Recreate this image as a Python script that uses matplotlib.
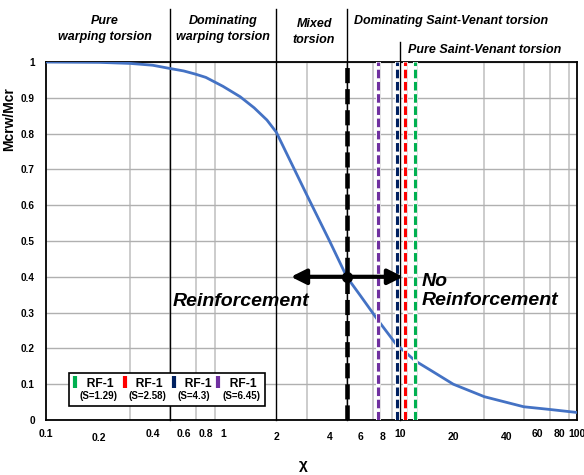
import matplotlib
matplotlib.use('Agg')
import matplotlib.pyplot as plt
from matplotlib.lines import Line2D
from matplotlib.ticker import NullFormatter

plt.rcParams['font.family'] = ['Liberation Sans', 'DejaVu Sans']

# Mcrw/Mcr against chi
chi = [0.1, 0.2, 0.3, 0.4, 0.5, 0.6, 0.7, 0.8, 1.0, 1.25, 1.5, 1.77, 2.0, 3.0,
       4.0, 5.0, 6.0, 7.5, 9.6, 10.7, 12.2, 15.0, 20.0, 30.0, 50.0, 70.0, 100.0]
ratio = [1.0, 0.999, 0.996, 0.991, 0.982, 0.975, 0.966, 0.957, 0.932, 0.903,
         0.872, 0.838, 0.804, 0.625, 0.50, 0.40, 0.346, 0.279, 0.209, 0.19,
         0.165, 0.138, 0.10, 0.065, 0.037, 0.0295, 0.021]

# torsion regime boundaries (thin black lines) and how far they run above the plot
boundary_chi = [0.5, 2.0, 5.0, 10.0]
boundary_top = [1.148, 1.148, 1.148, 1.056]

# reinforcement limit and the RF-1 cases
limit_chi = 5.0
limit_ratio = 0.4
arrow_span = (2.42, 10.4)
rf_names = ['RF-1', 'RF-1', 'RF-1', 'RF-1']
rf_s = ['1.29', '2.58', '4.3', '6.45']
rf_chi = [12.2, 10.7, 9.6, 7.5]
rf_colors = ['#00B050', '#FF0000', '#002060', '#7030A0']

xtick_vals = [0.1, 0.2, 0.4, 0.6, 0.8, 1, 2, 4, 6, 8, 10, 20, 40, 60, 80, 100]
xtick_labels = ['0.1', '0.2', '0.4', '0.6', '0.8', '1', '2', '4', '6', '8',
                '10', '20', '40', '60', '80', '100']
xtick_drop = [0, 3, 0, 0, 0, 0, 2, 2.5, 2.5, 2.5, 0, 2, 2, 0, 0, 0]
ytick_vals = [0, 0.1, 0.2, 0.3, 0.4, 0.5, 0.6, 0.7, 0.8, 0.9, 1.0]
ytick_labels = ['0', '0.1', '0.2', '0.3', '0.4', '0.5', '0.6', '0.7', '0.8', '0.9', '1']

fig = plt.figure(figsize=(5.84, 4.75), dpi=100)
ax = fig.add_axes([46 / 584, 1 - 420 / 475, 531 / 584, 358 / 475])
ax.set_xscale('log')
ax.set_xlim(0.1, 100)
ax.set_ylim(0, 1)

minor = [k * 10.0 ** e for e in (-1, 0, 1) for k in range(1, 10)] + [100]
ax.set_xticks(minor, minor=True)
ax.xaxis.set_minor_formatter(NullFormatter())
ax.set_xticks(xtick_vals, labels=xtick_labels)
ax.set_yticks(ytick_vals, labels=ytick_labels)
ax.grid(axis='x', which='minor', color='#c8c8c8', lw=1.3)
ax.grid(axis='y', which='major', color='#b0b0b0', lw=1.0)
ax.set_axisbelow(True)
ax.tick_params(axis='x', which='both', length=0, pad=6.5)
ax.tick_params(axis='y', length=0, pad=8)
for tick, dp in zip(ax.xaxis.get_major_ticks(), xtick_drop):
    tick.set_pad(6.5 + dp)
for lab in ax.get_xticklabels():
    lab.set_fontweight('bold')
    lab.set_fontsize(7.5)
for lab in ax.get_yticklabels():
    lab.set_fontweight('bold')
    lab.set_fontsize(7.2)
for sp in ax.spines.values():
    sp.set_linewidth(1.3)
    sp.set_color('black')

# regime boundaries
for xb, top in zip(boundary_chi, boundary_top):
    ax.plot([xb, xb], [0, top], color='black', lw=1, clip_on=False, zorder=3)

ax.plot(chi, ratio, color='#4472C4', lw=2, zorder=4)

# RF-1 cases
handles = []
labels = []
for name, s, xc, col in zip(rf_names, rf_s, rf_chi, rf_colors):
    ax.axvline(xc, color='#e4e4e4', lw=3.6, zorder=4.5)
    ax.axvline(xc, color='white', lw=2.8, zorder=4.6)
    ax.axvline(xc, color=col, lw=2.2, dashes=(2.8, 1.2), zorder=4.7)
    handles += [Line2D([], [], color=col, marker='|', ls='none', ms=8, mew=3),
                Line2D([], [], ls='none')]
    labels += ['  ' + name, '(S=' + s + ')']

ax.axvline(limit_chi, color='black', lw=3.3, dashes=(3.3, 1.3), zorder=5)
ax.annotate('', xy=(arrow_span[1], limit_ratio), xytext=(arrow_span[0], limit_ratio),
            arrowprops=dict(arrowstyle='<|-|>,head_length=0.6,head_width=0.3',
                            color='black', lw=3, mutation_scale=15,
                            shrinkA=0, shrinkB=0), zorder=6)
ax.plot([limit_chi], [limit_ratio], 'o', color='black', ms=7, zorder=7)

bi = dict(weight='bold', style='italic')
ax.text(0.522, 0.33, 'Reinforcement', fontsize=14, va='center', **bi)
ax.text(13.3, 0.36, 'No\nReinforcement', fontsize=14, va='center', linespacing=1.2, **bi)

ax.text(0.215, 1.092, 'Pure\nwarping torsion', ha='center', va='center', fontsize=9, linespacing=1.45, **bi)
ax.text(1.0, 1.092, 'Dominating\nwarping torsion', ha='center', va='center', fontsize=9, linespacing=1.45, **bi)
ax.text(3.27, 1.085, 'Mixed\ntorsion', ha='center', va='center', fontsize=9, linespacing=1.45, **bi)
ax.text(19.4, 1.106, 'Dominating Saint-Venant torsion', ha='center', va='baseline', fontsize=9, **bi)
ax.text(30.0, 1.026, 'Pure Saint-Venant torsion', ha='center', va='baseline', fontsize=9, **bi)

leg = ax.legend(handles, labels, ncol=4, loc='lower left', bbox_to_anchor=(0.043, 0.039),
                borderaxespad=0, prop=dict(weight='bold', size=8.7), handlelength=0.3,
                handletextpad=0.2, columnspacing=0.42, labelspacing=0.1, borderpad=0.4,
                fancybox=False, framealpha=1, edgecolor='black')
leg.get_frame().set_linewidth(1.2)
for t in leg.get_texts()[1::2]:
    t.set_fontsize(7)

ax.set_ylabel('Mcrw/Mcr', fontsize=10, weight='bold')
ax.yaxis.set_label_coords(-0.056, 0.84)
ax.set_xlabel('χ', fontsize=11, weight='bold')
ax.xaxis.set_label_coords(0.484, -0.105)

fig.savefig('out.png', dpi=100)
